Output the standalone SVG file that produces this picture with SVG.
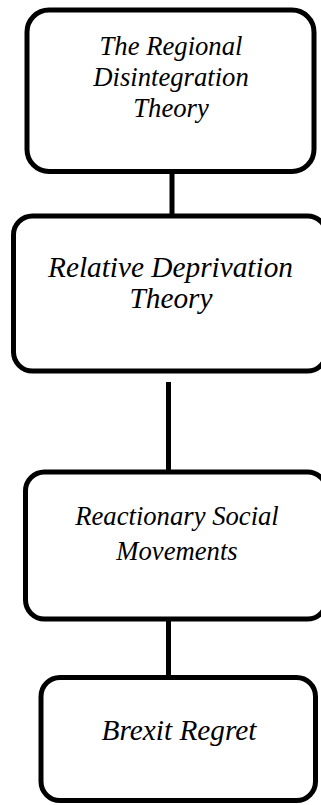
<svg xmlns="http://www.w3.org/2000/svg" width="321" height="805" viewBox="0 0 321 805">
<style>
.box{fill:#fff;stroke:#000;stroke-width:5}
.conn{stroke:#000;stroke-width:5;fill:none}
text{font-family:"Liberation Serif","Times New Roman",serif;font-style:italic;font-size:26.67px;fill:#000;text-anchor:middle}
.big{font-size:29.3px}
</style>
<rect width="321" height="805" fill="#fff"/>
<g id="connectors">
<line class="conn" x1="172" y1="171" x2="172" y2="216"/>
<line class="conn" x1="168.5" y1="382" x2="168.5" y2="472"/>
<line class="conn" x1="168.5" y1="619" x2="168.5" y2="678"/>
</g>
<g id="node1">
<rect class="box" x="27" y="10" width="287" height="161.5" rx="22"/>
<text x="171" y="55">The Regional</text>
<text x="171" y="86">Disintegration</text>
<text x="171" y="117">Theory</text>
</g>
<g id="node2">
<rect class="box" x="13.5" y="216" width="313" height="155" rx="19"/>
<text class="big" x="170.5" y="277">Relative Deprivation</text>
<text class="big" x="171" y="308">Theory</text>
</g>
<g id="node3">
<rect class="box" x="25.5" y="472" width="301" height="147" rx="19"/>
<text x="177" y="525">Reactionary Social</text>
<text x="177" y="560">Movements</text>
</g>
<g id="node4">
<rect class="box" x="41" y="677.5" width="274.5" height="123" rx="19"/>
<text class="big" x="179" y="740">Brexit Regret</text>
</g>
</svg>
